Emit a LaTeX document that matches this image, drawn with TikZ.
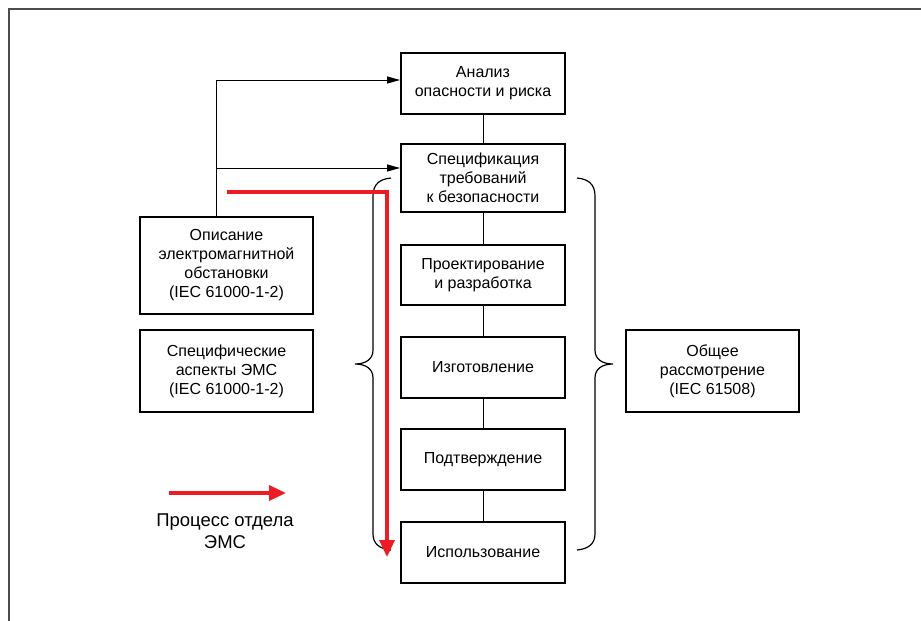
\documentclass[tikz,border=0pt]{standalone}
\usepackage{fontspec}
\setmainfont{Liberation Sans}
\usetikzlibrary{arrows.meta}
\definecolor{emsred}{HTML}{ED1C24}
\tikzset{
  mainbox/.style={draw, line width=2pt, minimum width=164pt, align=center, font=\fontsize{16}{19}\selectfont, inner sep=2pt},
  sidebox/.style={draw, line width=1.5pt, minimum width=173pt, minimum height=82pt, align=center, font=\fontsize{16}{19}\selectfont, inner sep=2pt},
  link/.style={line width=1pt},
  feed/.style={line width=1pt, -{Triangle[length=13pt,width=7pt]}},
  brace/.style={line width=1.2pt},
  redpath/.style={line width=3.5pt, emsred, -{Triangle[length=17pt,width=15pt]}}
}
\begin{document}
\begin{tikzpicture}[x=1pt,y=-1pt]
\useasboundingbox (0,0) rectangle (921,621);
\fill[white] (0,0) rectangle (921,621);
% frame
\coordinate (fbl) at (9,621);
\coordinate (ftl) at (9,9);
\coordinate (ftr) at (921,9);
\draw[line width=1.5pt, black!70] (fbl) -- (ftl) -- (ftr);

% central column
\node[mainbox, minimum height=61pt] (b1) at (483,83.5) {Анализ\\опасности и риска};
\node[mainbox, minimum height=68pt] (b2) at (483,178) {Спецификация\\требований\\к безопасности};
\node[mainbox, minimum height=60pt] (b3) at (483,275) {Проектирование\\и разработка};
\node[mainbox, minimum height=61pt] (b4) at (483,367.5) {Изготовление};
\node[mainbox, minimum height=61pt] (b5) at (483,459.5) {Подтверждение};
\node[mainbox, minimum height=61pt] (b6) at (483,552.5) {Использование};
\draw[link] (b1) -- (b2);
\draw[link] (b2) -- (b3);
\draw[link] (b3) -- (b4);
\draw[link] (b4) -- (b5);
\draw[link] (b5) -- (b6);

% side boxes
\node[sidebox, minimum height=97pt] (l1) at (226.5,265.5) {Описание\\электромагнитной\\обстановки\\(IEC 61000-1-2)};
\node[sidebox] (l2) at (226.5,371) {Специфические\\аспекты ЭМС\\(IEC 61000-1-2)};
\node[sidebox] (r1) at (712.5,371) {Общее\\рассмотрение\\(IEC 61508)};

% feed arrows
\coordinate (j1) at (216,80);
\coordinate (j2) at (216,168);
\draw[feed] (l1.north -| j1) -- (j1) -- (j1 -| b1.west);
\draw[feed] (j2) -- (j2 -| b2.west);

% left brace
\coordinate (lbt) at (391,178);
\coordinate (lbm) at (355,364);
\coordinate (lbb) at (391,550);
\draw[brace] (lbt) .. controls (380,179) and (373,184) .. (373,196)
  -- (373,350) .. controls (373,359) and (366,364) .. (lbm)
  .. controls (366,364) and (373,369) .. (373,378)
  -- (373,534) .. controls (373,544) and (380,549) .. (lbb);
% right brace
\coordinate (rbt) at (577,178);
\coordinate (rbm) at (613,364);
\coordinate (rbb) at (577,550);
\draw[brace] (rbt) .. controls (588,179) and (595,184) .. (595,196)
  -- (595,350) .. controls (595,359) and (602,364) .. (rbm)
  .. controls (602,364) and (595,369) .. (595,378)
  -- (595,534) .. controls (595,544) and (588,549) .. (rbb);

% red process path
\coordinate (rs) at (227,192);
\coordinate (rc) at (387,192);
\coordinate (re) at (387,557);
\draw[redpath, line join=miter] (rs) -- (rc) -- (re);

% legend
\coordinate (ls) at (169,493);
\coordinate (le) at (286,493);
\draw[redpath] (ls) -- (le);
\node[align=center, font=\fontsize{18.5}{22}\selectfont] (lt) at (225,531) {Процесс отдела\\ЭМС};
\end{tikzpicture}
\end{document}
